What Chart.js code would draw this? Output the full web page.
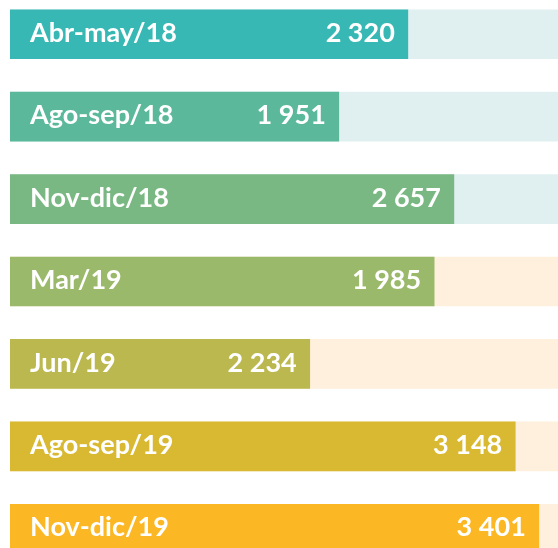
<!DOCTYPE html>
<html>
<head>
<meta charset="utf-8">
<script src="https://cdn.jsdelivr.net/npm/chart.js@4"></script>
<style>
  html, body { margin: 0; padding: 0; background: #ffffff; overflow: hidden; width: 558px; height: 548px; }
  #wrap { position: absolute; left: 0; top: -7px; width: 558px; height: 577px; }
</style>
</head>
<body>
<div id="wrap"><canvas id="c"></canvas></div>
<script>
const categories = ["Abr-may/18", "Ago-sep/18", "Nov-dic/18", "Mar/19", "Jun/19", "Ago-sep/19", "Nov-dic/19"];
const values = [2320, 1951, 2657, 1985, 2234, 3148, 3401];
const barShares = [72.6, 60.0, 81.0, 77.4, 54.7, 92.2, 96.5];
const trackShares = [100, 100, 100, 100, 100, 100, 100];

const barColors = ["#37B8B4", "#5BB89A", "#7AB883", "#9BB96A", "#BBB84F", "#D8B931", "#FBB824"];
const trackColors = ["#E0F0F0", "#E0F0F0", "#E0F0F0", "#FEF0DC", "#FEF0DC", "#FEF0DC", "#FEF0DC"];

function fmt(v) {
  return String(v).replace(/\B(?=(\d{3})+(?!\d))/g, " ");
}

const labelPlugin = {
  id: "labels",
  afterDatasetsDraw(chart) {
    const ctx = chart.ctx;
    const meta = chart.getDatasetMeta(1);
    ctx.save();
    ctx.fillStyle = "#ffffff";
    ctx.font = "700 27px Lato";
    ctx.textBaseline = "middle";
    meta.data.forEach((el, i) => {
      const y = el.y - 1;
      ctx.textAlign = "left";
      ctx.fillText(categories[i], chart.chartArea.left + 20, y);
      ctx.textAlign = "right";
      ctx.fillText(fmt(values[i]), el.x - 13, y);
    });
    ctx.restore();
  }
};

new Chart(document.getElementById("c"), {
  type: "bar",
  data: {
    labels: categories,
    datasets: [
      { data: trackShares, backgroundColor: trackColors, grouped: false, order: 2, barThickness: 49 },
      { data: barShares, backgroundColor: barColors, grouped: false, order: 1, barThickness: 49 }
    ]
  },
  options: {
    indexAxis: "y",
    responsive: true,
    maintainAspectRatio: false,
    animation: false,
    layout: { padding: { left: 10, right: 0, top: 0, bottom: 0 } },
    plugins: { legend: { display: false }, tooltip: { enabled: false } },
    scales: {
      x: { display: false, min: 0, max: 100 },
      y: { display: false, grid: { display: false } }
    }
  },
  plugins: [labelPlugin]
});
</script>
</body>
</html>
